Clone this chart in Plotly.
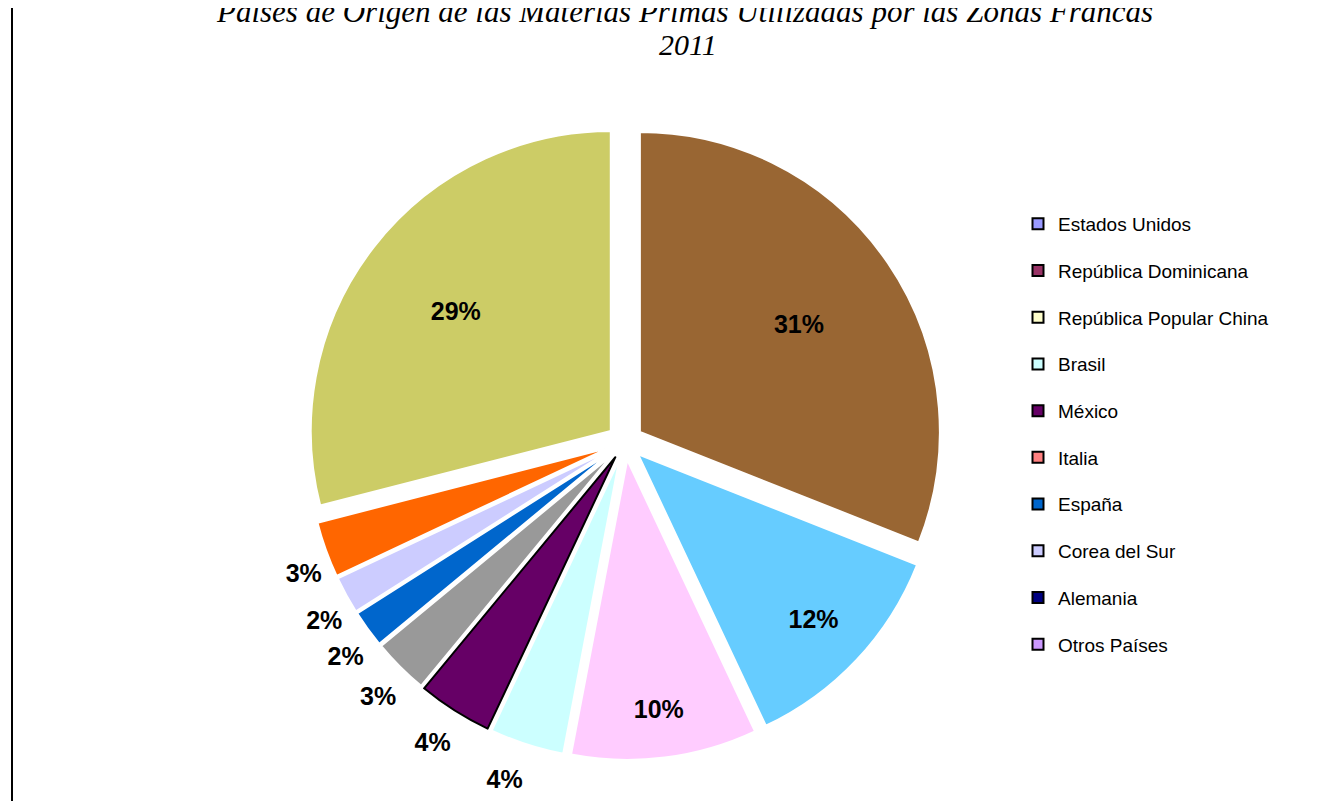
import plotly.graph_objects as go

# Slice data (clockwise from 12 o'clock)
slice_names = ["A", "B", "C", "D", "E", "F", "G", "H", "I", "J"]
slice_values = [31, 12, 10, 4, 4, 3, 2, 2, 3, 29]
slice_colors = ["#996633", "#66CCFF", "#FFCCFF", "#CCFFFF", "#660066",
                "#999999", "#0066CC", "#CCCCFF", "#FF6600", "#CCCC66"]
slice_line_colors = ["white", "white", "white", "white", "black",
                     "white", "white", "white", "white", "white"]
# label placement groups
pos_big = ["inside", "none", "none", "none", "none",
           "none", "none", "none", "none", "inside"]
pos_mid = ["none", "inside", "inside", "none", "none",
           "none", "none", "none", "none", "none"]
pos_small = ["none", "none", "none", "outside", "outside",
             "outside", "outside", "outside", "outside", "none"]

# Legend entries
legend_labels = ["Estados Unidos", "República Dominicana", "República Popular China",
                 "Brasil", "México", "Italia", "España", "Corea del Sur",
                 "Alemania", "Otros Países"]
legend_colors = ["#9999FF", "#993366", "#FFFFCC", "#CCFFFF", "#660066",
                 "#FF8080", "#0066CC", "#CCCCFF", "#000080", "#CC99FF"]

W, H = 1340, 801
PULL = 0.06
CX, CY, R = 617, 434, 300  # pie centre / radius in px


def dom(radius, cx=CX, cy=CY):
    half = radius * (1 + PULL)
    return dict(x=[(cx - half) / W, (cx + half) / W],
                y=[max(0.0, 1 - (cy + half) / H), min(1.0, 1 - (cy - half) / H)])


label_font = dict(family="Liberation Sans, Arial", size=25, color="black", weight="bold")
clear = ["rgba(0,0,0,0)"] * len(slice_values)


def label_pie(positions, domain):
    return go.Pie(
        labels=slice_names, values=slice_values, sort=False,
        direction="clockwise", rotation=0, pull=PULL,
        marker=dict(colors=clear, line=dict(width=0)),
        texttemplate="%{value}%", textposition=positions,
        insidetextorientation="horizontal", textfont=label_font,
        showlegend=False, hoverinfo="skip", domain=domain,
    )


fig = go.Figure()
# visible pie
fig.add_trace(go.Pie(
    labels=slice_names, values=slice_values, sort=False,
    direction="clockwise", rotation=0, pull=PULL,
    marker=dict(colors=slice_colors, line=dict(color=slice_line_colors, width=2)),
    textinfo="none", showlegend=False, hoverinfo="skip",
    domain=dom(R),
))
# transparent pies carrying the percentage labels
fig.add_trace(label_pie(pos_big, dom((H - CY) / (1 + PULL))))
fig.add_trace(label_pie(pos_mid, dom(R * 1.09)))
fig.add_trace(label_pie(pos_small, dom(R, CX + 3, CY + 22)))

for i, (lab, col) in enumerate(zip(legend_labels, legend_colors)):
    fig.add_trace(go.Scatter(
        x=[None], y=[None], mode="markers", name=lab,
        legendgroup=f"g{i}",
        marker=dict(symbol="square", size=11, color=col,
                    line=dict(color="black", width=2)),
    ))

fig.update_layout(
    width=W, height=H,
    margin=dict(l=0, r=0, t=0, b=0, autoexpand=False),
    paper_bgcolor="white", plot_bgcolor="white",
    xaxis=dict(visible=False), yaxis=dict(visible=False),
    legend=dict(
        x=1010 / W, xanchor="left", y=1 - 197 / H, yanchor="top",
        font=dict(family="Liberation Sans, Arial", size=19, color="black"),
        tracegroupgap=19, bgcolor="rgba(0,0,0,0)",
    ),
    annotations=[
        dict(text="<i>Países de Origen de las Materias Primas Utilizadas por las Zonas Francas</i>",
             x=676 / W, y=1 - 3 / H, xref="paper", yref="paper",
             xanchor="center", yanchor="middle", showarrow=False,
             font=dict(family="Liberation Serif, Times New Roman", size=31, color="black")),
        dict(text="<i>2011</i>",
             x=680 / W, y=1 - 36 / H, xref="paper", yref="paper",
             xanchor="center", yanchor="middle", showarrow=False,
             font=dict(family="Liberation Serif, Times New Roman", size=30, color="black")),
    ],
    shapes=[dict(type="line", xref="paper", yref="paper",
                 x0=4 / W, x1=4 / W, y0=0, y1=1,
                 line=dict(color="black", width=2))],
)

fig.write_html("out.html")
